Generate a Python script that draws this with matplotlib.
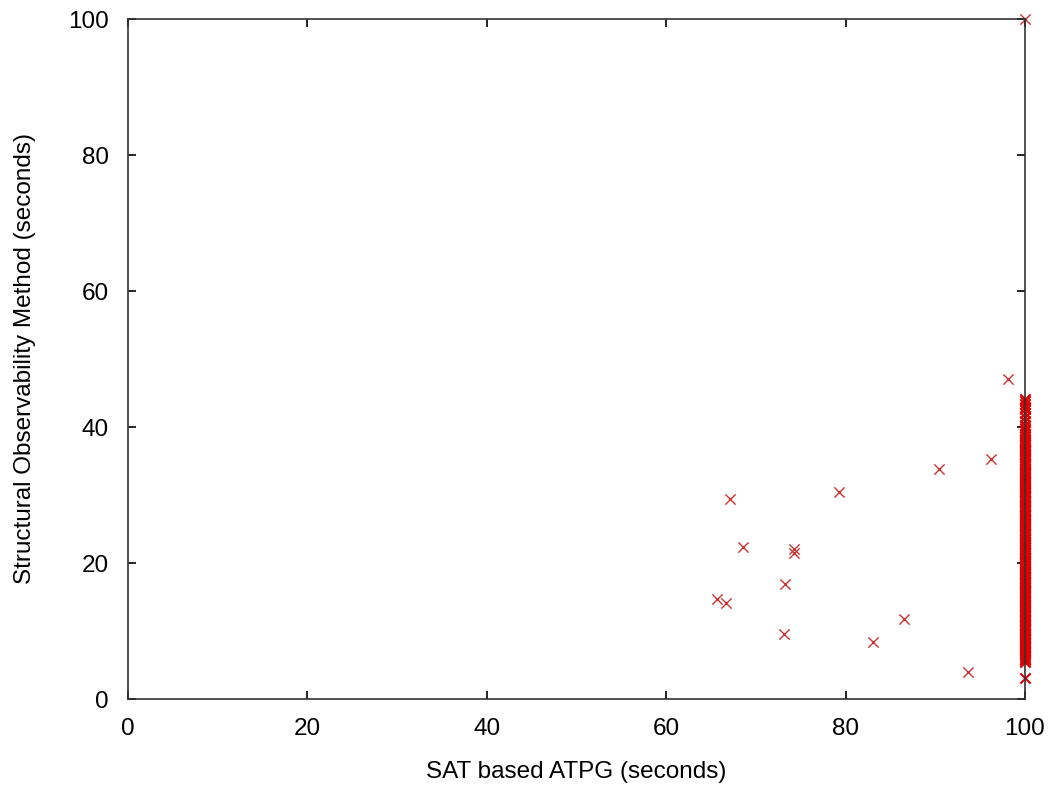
import matplotlib
matplotlib.use("Agg")
import matplotlib.pyplot as plt

plt.rcParams['font.family'] = ['Liberation Sans', 'DejaVu Sans']

# scattered points (SAT time, structural time)
sat_x = [65.7, 66.7, 67.1, 68.6, 73.1, 73.2, 74.2, 74.3, 79.3, 83.1,
         86.5, 90.4, 93.6, 96.2, 98.1, 100.0]
obs_y = [14.7, 14.1, 29.4, 22.3, 9.6, 16.9, 22.0, 21.4, 30.4, 8.4,
         11.8, 33.8, 3.9, 35.3, 47.1, 100.0]

# timed-out cases at x = 100
timeout_y = [
    3.1, 5.4, 5.7, 5.9, 6.2, 6.5, 6.8, 7.1, 7.3, 7.6, 7.8, 8.1, 8.3, 8.6,
    8.8, 9.0, 9.3, 9.5, 9.7, 10.0, 10.2, 10.4, 10.7, 10.9, 11.1, 11.4,
    11.6, 11.8, 12.1, 12.3, 12.5, 12.8, 13.0, 13.2, 13.5, 13.7, 13.9,
    14.2, 14.4, 14.6, 14.9, 15.1, 15.3, 15.6, 15.8, 16.0, 16.3, 16.5,
    16.7, 17.0, 17.2, 17.4, 17.7, 17.9, 18.1, 18.4, 18.6, 18.8, 19.1,
    19.3, 19.5, 19.8, 20.0, 20.2, 20.5, 20.7, 20.9, 21.2, 21.4, 21.6,
    21.9, 22.1, 22.3, 22.6, 22.8, 23.0, 23.3, 23.5, 23.7, 24.0, 24.2,
    24.4, 24.7, 24.9, 25.1, 25.4, 25.6, 25.8, 26.1, 26.3, 26.5, 26.8,
    27.0, 27.2, 27.5, 27.7, 27.9, 28.2, 28.4, 28.6, 28.9, 29.1, 29.3,
    29.6, 29.8, 30.0, 30.3, 30.5, 30.7, 31.0, 31.2, 31.4, 31.7, 31.9,
    32.1, 32.4, 32.6, 32.8, 33.1, 33.3, 33.5, 33.8, 34.2, 34.5, 34.7,
    35.0, 35.2, 35.4, 35.7, 35.9, 36.1, 36.4, 36.6, 36.8, 37.1, 37.3,
    37.5, 37.8, 38.0, 38.3, 38.7, 39.0, 39.4, 39.8, 40.3, 40.9, 41.5,
    42.0, 42.6, 43.0, 43.4, 43.8, 44.1,
]
timeout_x = [100.0] * len(timeout_y)

fig = plt.figure(figsize=(10.52, 7.85), dpi=100)
ax = fig.add_axes([128 / 1052, 1 - 699 / 785, (1025 - 128) / 1052, (699 - 19) / 785])

ax.scatter(timeout_x, timeout_y, marker='x', s=55, color='#dd0000', linewidths=1.5,
           clip_on=False, zorder=3)
ax.scatter(sat_x, obs_y, marker='x', s=55, color='#cc3333', linewidths=1.0,
           clip_on=False, zorder=3)

ax.set_xlim(0, 100)
ax.set_ylim(0, 100)
ax.set_xticks([0, 20, 40, 60, 80, 100])
ax.set_yticks([0, 20, 40, 60, 80, 100])
ax.tick_params(direction='in', length=6, width=1.2, top=True, right=True,
               labelsize=17.5, colors='black')
ax.tick_params(axis='x', pad=13.5)
ax.tick_params(axis='y', pad=14)
for sp in ax.spines.values():
    sp.set_linewidth(1.2)
    sp.set_color('#333333')
    sp.set_zorder(4)

ax.set_xlabel('SAT based ATPG (seconds)', fontsize=17.5, labelpad=15)
ax.set_ylabel('Structural Observability Method (seconds)', fontsize=17.5, labelpad=23)

fig.savefig('out.png', dpi=100)
